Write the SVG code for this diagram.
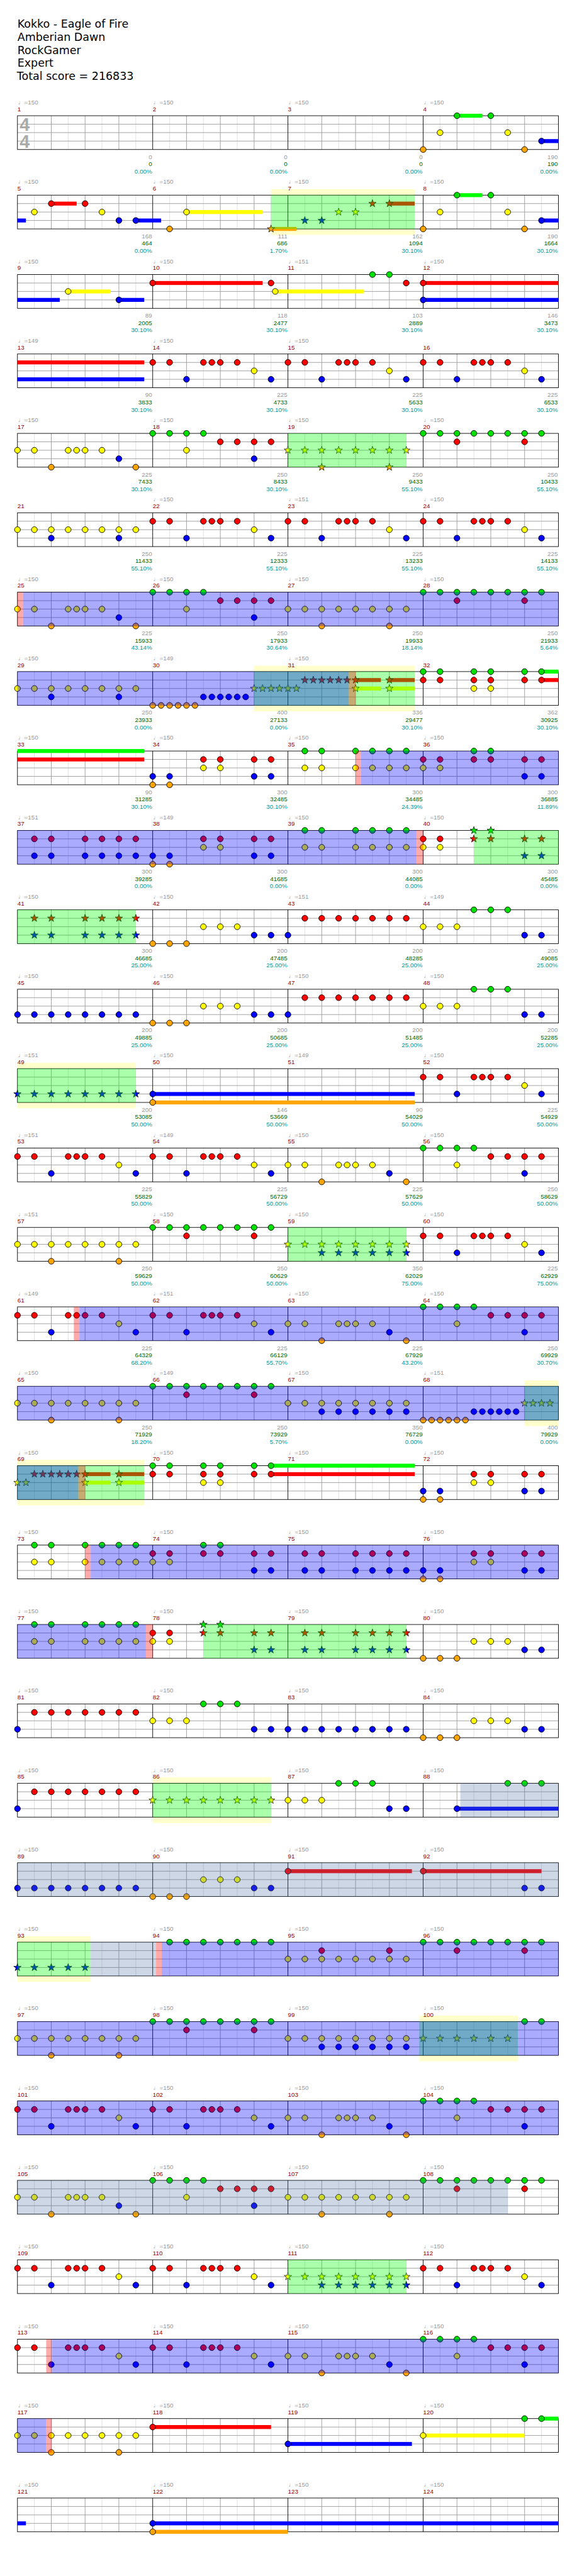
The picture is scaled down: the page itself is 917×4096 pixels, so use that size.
<svg xmlns="http://www.w3.org/2000/svg" xmlns:xlink="http://www.w3.org/1999/xlink" width="917" height="4096" viewBox="0 0 917 4096">
<style>
.ti{font-family:"DejaVu Sans",sans-serif;font-size:19.5px;fill:#000}
.tp,.mn,.ct,.sc,.pc{font-family:"Liberation Sans",Arial,"DejaVu Sans",sans-serif;font-size:11px}
.tp{fill:#999}.mn{fill:#900}
.ct{fill:#999;text-anchor:end}.sc{fill:#060;text-anchor:end}.pc{fill:#099;text-anchor:end}
.bG{fill:#0f0}.bR{fill:#f00}.bY{fill:#ff0}.bB{fill:#00f}.bO{fill:#ffa500}
.band{fill:#ffffcc}
.oG{fill:#0f0;fill-opacity:.333}.oB{fill:#00f;fill-opacity:.333}.oP{fill:#f00;fill-opacity:.333}.oS{fill:#4a6fa5;fill-opacity:.28}
.ts{font-family:"Liberation Sans",Arial,sans-serif;font-size:32px;font-weight:bold;fill:#aaa}
</style>
<defs>
<g id="staff">
<rect width="960" height="60" fill="#fff"/>
<path d="M30 0V60M90 0V60M150 0V60M210 0V60M270 0V60M330 0V60M390 0V60M450 0V60M510 0V60M570 0V60M630 0V60M690 0V60M750 0V60M810 0V60M870 0V60M930 0V60" stroke="#ddd"/>
<path d="M60 0V60M120 0V60M180 0V60M300 0V60M360 0V60M420 0V60M540 0V60M600 0V60M660 0V60M780 0V60M840 0V60M900 0V60M0 15H960M0 30H960M0 45H960" stroke="#999"/>
<path d="M240 0V60M480 0V60M720 0V60" stroke="#000"/>
<rect width="960" height="60" fill="none" stroke="#000"/>
</g>
<g id="tp4"><text class="tp" x="1" y="-20">♩=150</text><text class="tp" x="241" y="-20">♩=150</text><text class="tp" x="481" y="-20">♩=150</text><text class="tp" x="721" y="-20">♩=150</text></g>
<circle id="g" r="5.2" fill="#00e000" stroke="#000"/>
<circle id="r" cy="15" r="5.2" fill="#f00" stroke="#000"/>
<circle id="y" cy="30" r="5.2" fill="#ff0" stroke="#000"/>
<circle id="b" cy="45" r="5.2" fill="#00f" stroke="#000"/>
<circle id="o" cy="60" r="5.2" fill="#ffa500" stroke="#000"/>
<path id="st" d="M0,-7L1.65,-2.27L6.66,-2.16L2.66,0.87L4.11,5.66L0,2.8L-4.11,5.66L-2.66,0.87L-6.66,-2.16L-1.65,-2.27Z" stroke="#000" stroke-width=".8"/>
<use id="sg" href="#st" fill="#00e000"/>
<use id="sr" href="#st" y="15" fill="#f00"/>
<use id="sy" href="#st" y="30" fill="#ff0"/>
<use id="sb" href="#st" y="45" fill="#00f"/>
<use id="so" href="#st" y="60" fill="#ffa500"/>
<g id="pA"><use href="#r" x="0"/><use href="#r" x="30"/><use href="#r" x="90"/><use href="#r" x="105"/><use href="#r" x="120"/><use href="#r" x="150"/><use href="#y" x="180"/><use href="#b" x="60"/><use href="#b" x="210"/></g>
<g id="pB"><rect class="bG" x="60" y="-3.5" width="45" height="7"/><rect class="bB" x="210" y="41.5" width="30" height="7"/><use href="#o" x="0"/><use href="#y" x="30"/><use href="#g" x="60"/><use href="#g" x="120"/><use href="#y" x="150"/><use href="#o" x="180"/><use href="#b" x="210"/></g>
<g id="pC"><use href="#y" x="0"/><use href="#y" x="30"/><use href="#y" x="90"/><use href="#y" x="105"/><use href="#y" x="120"/><use href="#y" x="150"/><use href="#b" x="180"/><use href="#o" x="60"/><use href="#o" x="210"/></g>
<g id="pD"><use href="#g" x="0"/><use href="#g" x="30"/><use href="#g" x="60"/><use href="#g" x="90"/><use href="#r" x="120"/><use href="#r" x="150"/><use href="#r" x="180"/><use href="#r" x="210"/><use href="#y" x="60"/><use href="#b" x="180"/></g>
<g id="g8"><use href="#g" x="0"/><use href="#g" x="30"/><use href="#g" x="60"/><use href="#g" x="90"/><use href="#g" x="120"/><use href="#g" x="150"/><use href="#g" x="180"/><use href="#g" x="210"/></g>
<g id="pE"><use href="#g8"/><use href="#r" x="60"/><use href="#r" x="180"/></g>
<g id="y8"><use href="#y" x="0"/><use href="#y" x="30"/><use href="#y" x="60"/><use href="#y" x="90"/><use href="#y" x="120"/><use href="#y" x="150"/><use href="#y" x="180"/><use href="#y" x="210"/></g>
<g id="b8"><use href="#b" x="0"/><use href="#b" x="30"/><use href="#b" x="60"/><use href="#b" x="90"/><use href="#b" x="120"/><use href="#b" x="150"/><use href="#b" x="180"/><use href="#b" x="210"/></g>
<g id="pF"><use href="#y8"/><use href="#b" x="60"/><use href="#b" x="180"/></g>
<g id="pH"><use href="#y8"/><use href="#o" x="60"/><use href="#o" x="180"/></g>
<g id="pI"><use href="#b" x="0"/><use href="#b" x="30"/><use href="#o" x="0"/><use href="#o" x="30"/><use href="#r" x="90"/><use href="#r" x="120"/><use href="#r" x="180"/><use href="#r" x="210"/><use href="#y" x="90"/><use href="#y" x="120"/><use href="#b" x="180"/><use href="#b" x="210"/></g>
<g id="pJ"><use href="#o" x="0"/><use href="#o" x="30"/><use href="#o" x="60"/><use href="#y" x="90"/><use href="#y" x="120"/><use href="#y" x="150"/><use href="#b" x="180"/><use href="#b" x="210"/></g>
<g id="r7"><use href="#r" x="30"/><use href="#r" x="60"/><use href="#r" x="90"/><use href="#r" x="120"/><use href="#r" x="150"/><use href="#r" x="180"/><use href="#r" x="210"/></g>
<g id="pK"><use href="#y" x="0"/><use href="#y" x="30"/><use href="#y" x="60"/><use href="#g" x="90"/><use href="#g" x="120"/><use href="#g" x="150"/><use href="#b" x="180"/><use href="#b" x="210"/></g>
</defs>
<rect width="917" height="4096" fill="#fff"/>
<g transform="scale(0.8955)">
<g id="title">
<text class="ti" x="31" y="49">Kokko - Eagle of Fire</text>
<text class="ti" x="31" y="72.3">Amberian Dawn</text>
<text class="ti" x="31" y="95.5">RockGamer</text>
<text class="ti" x="31" y="118.6">Expert</text>
<text class="ti" x="30" y="141.7">Total score = 216833</text>
</g>

<g id="row1" transform="translate(31,205.5)">
<use href="#staff"/>
<text class="ts" x="4" y="26.5">4</text><text class="ts" x="4" y="56.5">4</text>
<use href="#pB" x="720"/>
<use href="#tp4"/>
<text class="mn" x="0" y="-8">1</text><text class="mn" x="240" y="-8">2</text><text class="mn" x="480" y="-8">3</text><text class="mn" x="720" y="-8">4</text>
<text class="ct" x="239" y="76.5">0</text><text class="sc" x="239" y="89.5">0</text><text class="pc" x="239" y="102.5">0.00%</text>
<text class="ct" x="479" y="76.5">0</text><text class="sc" x="479" y="89.5">0</text><text class="pc" x="479" y="102.5">0.00%</text>
<text class="ct" x="719" y="76.5">0</text><text class="sc" x="719" y="89.5">0</text><text class="pc" x="719" y="102.5">0.00%</text>
<text class="ct" x="959" y="76.5">190</text><text class="sc" x="959" y="89.5">190</text><text class="pc" x="959" y="102.5">0.00%</text>
</g>

<g id="row2" transform="translate(31,346.5)">
<rect class="band" x="450" y="-10.5" width="255" height="81"/>
<use href="#staff"/>
<rect class="bB" x="0" y="41.5" width="15" height="7"/><rect class="bR" x="60" y="11.5" width="45" height="7"/><rect class="bB" x="210" y="41.5" width="45" height="7"/><rect class="bY" x="300" y="26.5" width="135" height="7"/><rect class="bO" x="450" y="56.5" width="45" height="7"/><rect class="bR" x="660" y="11.5" width="45" height="7"/>
<use href="#y" x="30"/><use href="#r" x="60"/><use href="#r" x="120"/><use href="#y" x="150"/><use href="#b" x="180"/><use href="#b" x="210"/><use href="#o" x="270"/><use href="#y" x="300"/>
<use href="#so" x="450"/><use href="#sb" x="510"/><use href="#sb" x="540"/><use href="#sy" x="570"/><use href="#sy" x="600"/><use href="#sr" x="630"/><use href="#sr" x="660"/>
<use href="#pB" x="720"/>
<rect class="oG" x="450" y="0" width="255" height="60"/>
<use href="#tp4"/>
<text class="mn" x="0" y="-8">5</text><text class="mn" x="240" y="-8">6</text><text class="mn" x="480" y="-8">7</text><text class="mn" x="720" y="-8">8</text>
<text class="ct" x="239" y="76.5">168</text><text class="sc" x="239" y="89.5">464</text><text class="pc" x="239" y="102.5">0.00%</text>
<text class="ct" x="479" y="76.5">111</text><text class="sc" x="479" y="89.5">686</text><text class="pc" x="479" y="102.5">1.70%</text>
<text class="ct" x="719" y="76.5">162</text><text class="sc" x="719" y="89.5">1094</text><text class="pc" x="719" y="102.5">30.10%</text>
<text class="ct" x="959" y="76.5">190</text><text class="sc" x="959" y="89.5">1664</text><text class="pc" x="959" y="102.5">30.10%</text>
</g>

<g id="row3" transform="translate(31,487.5)">
<use href="#staff"/>
<rect class="bB" x="0" y="41.5" width="75" height="7"/><rect class="bY" x="90" y="26.5" width="75" height="7"/><rect class="bB" x="180" y="41.5" width="45" height="7"/><rect class="bR" x="240" y="11.5" width="195" height="7"/><rect class="bY" x="457.5" y="26.5" width="157.5" height="7"/><rect class="bR" x="720" y="11.5" width="240" height="7"/><rect class="bB" x="720" y="41.5" width="240" height="7"/>
<use href="#y" x="90"/><use href="#b" x="180"/><use href="#r" x="240"/><use href="#r" x="450"/><use href="#y" x="457.5"/><use href="#g" x="630"/><use href="#g" x="660"/><use href="#r" x="690"/><use href="#r" x="720"/><use href="#b" x="720"/>
<text class="tp" x="1" y="-20">♩=150</text><text class="mn" x="0" y="-8">9</text>
<text class="tp" x="241" y="-20">♩=150</text><text class="mn" x="240" y="-8">10</text>
<text class="tp" x="481" y="-20">♩=151</text><text class="mn" x="480" y="-8">11</text>
<text class="tp" x="721" y="-20">♩=150</text><text class="mn" x="720" y="-8">12</text>
<text class="ct" x="239" y="76.5">89</text><text class="sc" x="239" y="89.5">2005</text><text class="pc" x="239" y="102.5">30.10%</text>
<text class="ct" x="479" y="76.5">118</text><text class="sc" x="479" y="89.5">2477</text><text class="pc" x="479" y="102.5">30.10%</text>
<text class="ct" x="719" y="76.5">103</text><text class="sc" x="719" y="89.5">2889</text><text class="pc" x="719" y="102.5">30.10%</text>
<text class="ct" x="959" y="76.5">146</text><text class="sc" x="959" y="89.5">3473</text><text class="pc" x="959" y="102.5">30.10%</text>
</g>

<g id="row4" transform="translate(31,628.5)">
<use href="#staff"/>
<rect class="bR" x="0" y="11.5" width="225" height="7"/><rect class="bB" x="0" y="41.5" width="225" height="7"/>
<use href="#pA" x="240"/><use href="#pA" x="480"/><use href="#pA" x="720"/>
<text class="tp" x="1" y="-20">♩=149</text><text class="mn" x="0" y="-8">13</text>
<text class="tp" x="241" y="-20">♩=150</text><text class="mn" x="240" y="-8">14</text>
<text class="tp" x="481" y="-20">♩=150</text><text class="mn" x="480" y="-8">15</text>
<text class="mn" x="720" y="-8">16</text>
<text class="ct" x="239" y="76.5">90</text><text class="sc" x="239" y="89.5">3833</text><text class="pc" x="239" y="102.5">30.10%</text>
<text class="ct" x="479" y="76.5">225</text><text class="sc" x="479" y="89.5">4733</text><text class="pc" x="479" y="102.5">30.10%</text>
<text class="ct" x="719" y="76.5">225</text><text class="sc" x="719" y="89.5">5633</text><text class="pc" x="719" y="102.5">30.10%</text>
<text class="ct" x="959" y="76.5">225</text><text class="sc" x="959" y="89.5">6533</text><text class="pc" x="959" y="102.5">30.10%</text>
</g>

<g id="row5" transform="translate(31,769.5)">
<use href="#staff"/>
<use href="#pC"/><use href="#pD" x="240"/>
<use href="#sy" x="480"/><use href="#sy" x="510"/><use href="#sy" x="540"/><use href="#sy" x="570"/><use href="#sy" x="600"/><use href="#sy" x="630"/><use href="#sy" x="660"/><use href="#sy" x="690"/><use href="#so" x="540"/><use href="#so" x="660"/>
<use href="#pE" x="720"/>
<rect class="oG" x="480" y="0" width="210" height="60"/>
<use href="#tp4"/>
<text class="mn" x="0" y="-8">17</text><text class="mn" x="240" y="-8">18</text><text class="mn" x="480" y="-8">19</text><text class="mn" x="720" y="-8">20</text>
<text class="ct" x="239" y="76.5">225</text><text class="sc" x="239" y="89.5">7433</text><text class="pc" x="239" y="102.5">30.10%</text>
<text class="ct" x="479" y="76.5">250</text><text class="sc" x="479" y="89.5">8433</text><text class="pc" x="479" y="102.5">30.10%</text>
<text class="ct" x="719" y="76.5">250</text><text class="sc" x="719" y="89.5">9433</text><text class="pc" x="719" y="102.5">55.10%</text>
<text class="ct" x="959" y="76.5">250</text><text class="sc" x="959" y="89.5">10433</text><text class="pc" x="959" y="102.5">55.10%</text>
</g>

<g id="row6" transform="translate(31,910.5)">
<use href="#staff"/>
<use href="#pF"/><use href="#pA" x="240"/><use href="#pA" x="480"/><use href="#pA" x="720"/>
<text class="mn" x="0" y="-8">21</text>
<text class="tp" x="241" y="-20">♩=150</text><text class="mn" x="240" y="-8">22</text>
<text class="tp" x="481" y="-20">♩=151</text><text class="mn" x="480" y="-8">23</text>
<text class="tp" x="721" y="-20">♩=150</text><text class="mn" x="720" y="-8">24</text>
<text class="ct" x="239" y="76.5">250</text><text class="sc" x="239" y="89.5">11433</text><text class="pc" x="239" y="102.5">55.10%</text>
<text class="ct" x="479" y="76.5">225</text><text class="sc" x="479" y="89.5">12333</text><text class="pc" x="479" y="102.5">55.10%</text>
<text class="ct" x="719" y="76.5">225</text><text class="sc" x="719" y="89.5">13233</text><text class="pc" x="719" y="102.5">55.10%</text>
<text class="ct" x="959" y="76.5">225</text><text class="sc" x="959" y="89.5">14133</text><text class="pc" x="959" y="102.5">55.10%</text>
</g>

<g id="row7" transform="translate(31,1051.5)">
<use href="#staff"/>
<use href="#pC"/><use href="#pD" x="240"/><use href="#pH" x="480"/><use href="#pE" x="720"/>
<rect class="oP" x="0" y="0" width="10" height="60"/><rect class="oB" x="10" y="0" width="950" height="60"/>
<use href="#tp4"/>
<text class="mn" x="0" y="-8">25</text><text class="mn" x="240" y="-8">26</text><text class="mn" x="480" y="-8">27</text><text class="mn" x="720" y="-8">28</text>
<text class="ct" x="239" y="76.5">225</text><text class="sc" x="239" y="89.5">15933</text><text class="pc" x="239" y="102.5">43.14%</text>
<text class="ct" x="479" y="76.5">250</text><text class="sc" x="479" y="89.5">17933</text><text class="pc" x="479" y="102.5">30.64%</text>
<text class="ct" x="719" y="76.5">250</text><text class="sc" x="719" y="89.5">19933</text><text class="pc" x="719" y="102.5">18.14%</text>
<text class="ct" x="959" y="76.5">250</text><text class="sc" x="959" y="89.5">21933</text><text class="pc" x="959" y="102.5">5.64%</text>
</g>

<g id="row8" transform="translate(31,1192.5)">
<rect class="band" x="420" y="-10.5" width="285" height="81"/>
<use href="#staff"/>
<rect class="bR" x="600" y="11.5" width="45" height="7"/><rect class="bY" x="600" y="26.5" width="45" height="7"/><rect class="bR" x="660" y="11.5" width="45" height="7"/><rect class="bY" x="660" y="26.5" width="45" height="7"/><rect class="bG" x="930" y="-3.5" width="30" height="7"/><rect class="bR" x="930" y="11.5" width="30" height="7"/>
<use href="#pF"/>
<use href="#o" x="240"/><use href="#o" x="255"/><use href="#o" x="270"/><use href="#o" x="285"/><use href="#o" x="300"/><use href="#o" x="315"/>
<use href="#b" x="330"/><use href="#b" x="345"/><use href="#b" x="360"/><use href="#b" x="375"/><use href="#b" x="390"/><use href="#b" x="405"/>
<use href="#sy" x="420"/><use href="#sy" x="435"/><use href="#sy" x="450"/><use href="#sy" x="465"/><use href="#sy" x="480"/><use href="#sy" x="495"/>
<use href="#sr" x="510"/><use href="#sr" x="525"/><use href="#sr" x="540"/><use href="#sr" x="555"/><use href="#sr" x="570"/><use href="#sr" x="585"/><use href="#sr" x="600"/><use href="#sy" x="600"/><use href="#sr" x="660"/><use href="#sy" x="660"/>
<use href="#g" x="720"/><use href="#g" x="750"/><use href="#g" x="810"/><use href="#g" x="840"/><use href="#g" x="900"/><use href="#g" x="930"/>
<use href="#r" x="720"/><use href="#r" x="750"/><use href="#r" x="810"/><use href="#r" x="840"/><use href="#r" x="900"/><use href="#r" x="930"/>
<use href="#y" x="810"/><use href="#y" x="840"/>
<rect class="oG" x="420" y="0" width="285" height="60"/><rect class="oB" x="0" y="0" width="588" height="60"/><rect class="oP" x="588" y="0" width="12" height="60"/>
<text class="tp" x="1" y="-20">♩=150</text><text class="mn" x="0" y="-8">29</text>
<text class="tp" x="241" y="-20">♩=149</text><text class="mn" x="240" y="-8">30</text>
<text class="tp" x="481" y="-20">♩=150</text><text class="mn" x="480" y="-8">31</text>
<text class="mn" x="720" y="-8">32</text>
<text class="ct" x="239" y="76.5">250</text><text class="sc" x="239" y="89.5">23933</text><text class="pc" x="239" y="102.5">0.00%</text>
<text class="ct" x="479" y="76.5">400</text><text class="sc" x="479" y="89.5">27133</text><text class="pc" x="479" y="102.5">0.00%</text>
<text class="ct" x="719" y="76.5">336</text><text class="sc" x="719" y="89.5">29477</text><text class="pc" x="719" y="102.5">30.10%</text>
<text class="ct" x="959" y="76.5">362</text><text class="sc" x="959" y="89.5">30925</text><text class="pc" x="959" y="102.5">30.10%</text>
</g>

<g id="row9" transform="translate(31,1333.5)">
<use href="#staff"/>
<rect class="bG" x="0" y="-3.5" width="225" height="7"/><rect class="bR" x="0" y="11.5" width="225" height="7"/>
<use href="#pI" x="240"/>
<use href="#g" x="510"/><use href="#g" x="540"/><use href="#y" x="510"/><use href="#y" x="540"/><use href="#g" x="600"/><use href="#y" x="600"/><use href="#g" x="630"/><use href="#g" x="660"/><use href="#g" x="690"/><use href="#y" x="630"/><use href="#y" x="660"/><use href="#y" x="690"/>
<use href="#r" x="720"/><use href="#r" x="750"/><use href="#r" x="810"/><use href="#r" x="840"/><use href="#r" x="900"/><use href="#r" x="930"/><use href="#y" x="720"/><use href="#y" x="750"/><use href="#g" x="810"/><use href="#g" x="840"/><use href="#b" x="900"/><use href="#b" x="930"/>
<rect class="oP" x="600" y="0" width="10" height="60"/><rect class="oB" x="610" y="0" width="350" height="60"/>
<use href="#tp4"/>
<text class="mn" x="0" y="-8">33</text><text class="mn" x="240" y="-8">34</text><text class="mn" x="480" y="-8">35</text><text class="mn" x="720" y="-8">36</text>
<text class="ct" x="239" y="76.5">90</text><text class="sc" x="239" y="89.5">31285</text><text class="pc" x="239" y="102.5">30.10%</text>
<text class="ct" x="479" y="76.5">300</text><text class="sc" x="479" y="89.5">32485</text><text class="pc" x="479" y="102.5">30.10%</text>
<text class="ct" x="719" y="76.5">300</text><text class="sc" x="719" y="89.5">34485</text><text class="pc" x="719" y="102.5">24.39%</text>
<text class="ct" x="959" y="76.5">300</text><text class="sc" x="959" y="89.5">36885</text><text class="pc" x="959" y="102.5">11.89%</text>
</g>

<g id="row10" transform="translate(31,1474.5)">
<use href="#staff"/>
<use href="#r" x="30"/><use href="#r" x="60"/><use href="#r" x="120"/><use href="#r" x="150"/><use href="#r" x="180"/><use href="#r" x="210"/>
<use href="#b" x="30"/><use href="#b" x="60"/><use href="#b" x="120"/><use href="#b" x="150"/><use href="#b" x="180"/><use href="#b" x="210"/>
<use href="#pI" x="240"/>
<use href="#g" x="510"/><use href="#g" x="540"/><use href="#g" x="600"/><use href="#g" x="630"/><use href="#g" x="660"/><use href="#g" x="690"/>
<use href="#y" x="510"/><use href="#y" x="540"/><use href="#y" x="600"/><use href="#y" x="630"/><use href="#y" x="660"/><use href="#y" x="690"/>
<use href="#r" x="720"/><use href="#r" x="750"/><use href="#y" x="720"/><use href="#y" x="750"/>
<use href="#sg" x="810"/><use href="#sg" x="840"/><use href="#sr" x="810"/><use href="#sr" x="840"/><use href="#sr" x="900"/><use href="#sr" x="930"/><use href="#sb" x="900"/><use href="#sb" x="930"/>
<rect class="oB" x="0" y="0" width="708" height="60"/><rect class="oP" x="708" y="0" width="12" height="60"/><rect class="oG" x="810" y="0" width="150" height="60"/>
<text class="tp" x="1" y="-20">♩=151</text><text class="mn" x="0" y="-8">37</text>
<text class="tp" x="241" y="-20">♩=149</text><text class="mn" x="240" y="-8">38</text>
<text class="tp" x="481" y="-20">♩=150</text><text class="mn" x="480" y="-8">39</text>
<text class="tp" x="721" y="-20">♩=150</text><text class="mn" x="720" y="-8">40</text>
<text class="ct" x="239" y="76.5">300</text><text class="sc" x="239" y="89.5">39285</text><text class="pc" x="239" y="102.5">0.00%</text>
<text class="ct" x="479" y="76.5">300</text><text class="sc" x="479" y="89.5">41685</text><text class="pc" x="479" y="102.5">0.00%</text>
<text class="ct" x="719" y="76.5">300</text><text class="sc" x="719" y="89.5">44085</text><text class="pc" x="719" y="102.5">0.00%</text>
<text class="ct" x="959" y="76.5">300</text><text class="sc" x="959" y="89.5">45485</text><text class="pc" x="959" y="102.5">0.00%</text>
</g>

<g id="row11" transform="translate(31,1615.5)">
<use href="#staff"/>
<use href="#sr" x="30"/><use href="#sr" x="60"/><use href="#sr" x="120"/><use href="#sr" x="150"/><use href="#sr" x="180"/><use href="#sr" x="210"/>
<use href="#sb" x="30"/><use href="#sb" x="60"/><use href="#sb" x="120"/><use href="#sb" x="150"/><use href="#sb" x="180"/><use href="#sb" x="210"/>
<use href="#pJ" x="240"/><use href="#b" x="480"/><use href="#r7" x="480"/><use href="#pK" x="720"/>
<rect class="oG" x="0" y="0" width="210" height="60"/>
<text class="tp" x="1" y="-20">♩=150</text><text class="mn" x="0" y="-8">41</text>
<text class="tp" x="241" y="-20">♩=150</text><text class="mn" x="240" y="-8">42</text>
<text class="tp" x="481" y="-20">♩=151</text><text class="mn" x="480" y="-8">43</text>
<text class="tp" x="721" y="-20">♩=149</text><text class="mn" x="720" y="-8">44</text>
<text class="ct" x="239" y="76.5">300</text><text class="sc" x="239" y="89.5">46685</text><text class="pc" x="239" y="102.5">25.00%</text>
<text class="ct" x="479" y="76.5">200</text><text class="sc" x="479" y="89.5">47485</text><text class="pc" x="479" y="102.5">25.00%</text>
<text class="ct" x="719" y="76.5">200</text><text class="sc" x="719" y="89.5">48285</text><text class="pc" x="719" y="102.5">25.00%</text>
<text class="ct" x="959" y="76.5">200</text><text class="sc" x="959" y="89.5">49085</text><text class="pc" x="959" y="102.5">25.00%</text>
</g>

<g id="row12" transform="translate(31,1756.5)">
<use href="#staff"/>
<use href="#b8"/><use href="#pJ" x="240"/><use href="#b" x="480"/><use href="#r7" x="480"/><use href="#pK" x="720"/>
<use href="#tp4"/>
<text class="mn" x="0" y="-8">45</text><text class="mn" x="240" y="-8">46</text><text class="mn" x="480" y="-8">47</text><text class="mn" x="720" y="-8">48</text>
<text class="ct" x="239" y="76.5">200</text><text class="sc" x="239" y="89.5">49885</text><text class="pc" x="239" y="102.5">25.00%</text>
<text class="ct" x="479" y="76.5">200</text><text class="sc" x="479" y="89.5">50685</text><text class="pc" x="479" y="102.5">25.00%</text>
<text class="ct" x="719" y="76.5">200</text><text class="sc" x="719" y="89.5">51485</text><text class="pc" x="719" y="102.5">25.00%</text>
<text class="ct" x="959" y="76.5">200</text><text class="sc" x="959" y="89.5">52285</text><text class="pc" x="959" y="102.5">25.00%</text>
</g>

<g id="row13" transform="translate(31,1897.5)">
<rect class="band" x="0" y="-10.5" width="210" height="81"/>
<use href="#staff"/>
<rect class="bB" x="240" y="41.5" width="465" height="7"/><rect class="bO" x="240" y="56.5" width="465" height="7"/>
<use href="#sb" x="0"/><use href="#sb" x="30"/><use href="#sb" x="60"/><use href="#sb" x="90"/><use href="#sb" x="120"/><use href="#sb" x="150"/><use href="#sb" x="180"/><use href="#sb" x="210"/>
<use href="#b" x="240"/><use href="#o" x="240"/><use href="#pA" x="720"/>
<rect class="oG" x="0" y="0" width="210" height="60"/>
<text class="tp" x="1" y="-20">♩=151</text><text class="mn" x="0" y="-8">49</text>
<text class="tp" x="241" y="-20">♩=150</text><text class="mn" x="240" y="-8">50</text>
<text class="tp" x="481" y="-20">♩=149</text><text class="mn" x="480" y="-8">51</text>
<text class="tp" x="721" y="-20">♩=150</text><text class="mn" x="720" y="-8">52</text>
<text class="ct" x="239" y="76.5">200</text><text class="sc" x="239" y="89.5">53085</text><text class="pc" x="239" y="102.5">50.00%</text>
<text class="ct" x="479" y="76.5">146</text><text class="sc" x="479" y="89.5">53669</text><text class="pc" x="479" y="102.5">50.00%</text>
<text class="ct" x="719" y="76.5">90</text><text class="sc" x="719" y="89.5">54029</text><text class="pc" x="719" y="102.5">50.00%</text>
<text class="ct" x="959" y="76.5">225</text><text class="sc" x="959" y="89.5">54929</text><text class="pc" x="959" y="102.5">50.00%</text>
</g>

<g id="row14" transform="translate(31,2038.5)">
<use href="#staff"/>
<use href="#pA"/><use href="#pA" x="240"/><use href="#pC" x="480"/><use href="#pD" x="720"/>
<text class="tp" x="1" y="-20">♩=151</text><text class="mn" x="0" y="-8">53</text>
<text class="tp" x="241" y="-20">♩=149</text><text class="mn" x="240" y="-8">54</text>
<text class="tp" x="481" y="-20">♩=150</text><text class="mn" x="480" y="-8">55</text>
<text class="tp" x="721" y="-20">♩=150</text><text class="mn" x="720" y="-8">56</text>
<text class="ct" x="239" y="76.5">225</text><text class="sc" x="239" y="89.5">55829</text><text class="pc" x="239" y="102.5">50.00%</text>
<text class="ct" x="479" y="76.5">225</text><text class="sc" x="479" y="89.5">56729</text><text class="pc" x="479" y="102.5">50.00%</text>
<text class="ct" x="719" y="76.5">225</text><text class="sc" x="719" y="89.5">57629</text><text class="pc" x="719" y="102.5">50.00%</text>
<text class="ct" x="959" y="76.5">250</text><text class="sc" x="959" y="89.5">58629</text><text class="pc" x="959" y="102.5">50.00%</text>
</g>

<g id="row15" transform="translate(31,2179.5)">
<use href="#staff"/>
<use href="#pH"/><use href="#pE" x="240"/>
<use href="#sy" x="480"/><use href="#sy" x="510"/><use href="#sy" x="540"/><use href="#sy" x="570"/><use href="#sy" x="600"/><use href="#sy" x="630"/><use href="#sy" x="660"/><use href="#sy" x="690"/>
<use href="#sb" x="540"/><use href="#sb" x="570"/><use href="#sb" x="600"/><use href="#sb" x="630"/><use href="#sb" x="660"/><use href="#sb" x="690"/>
<use href="#pA" x="720"/>
<rect class="oG" x="480" y="0" width="210" height="60"/>
<text class="tp" x="1" y="-20">♩=151</text><text class="mn" x="0" y="-8">57</text>
<text class="tp" x="241" y="-20">♩=150</text><text class="mn" x="240" y="-8">58</text>
<text class="tp" x="481" y="-20">♩=150</text><text class="mn" x="480" y="-8">59</text>
<text class="tp" x="721" y="-20">♩=150</text><text class="mn" x="720" y="-8">60</text>
<text class="ct" x="239" y="76.5">250</text><text class="sc" x="239" y="89.5">59629</text><text class="pc" x="239" y="102.5">50.00%</text>
<text class="ct" x="479" y="76.5">250</text><text class="sc" x="479" y="89.5">60629</text><text class="pc" x="479" y="102.5">50.00%</text>
<text class="ct" x="719" y="76.5">350</text><text class="sc" x="719" y="89.5">62029</text><text class="pc" x="719" y="102.5">75.00%</text>
<text class="ct" x="959" y="76.5">225</text><text class="sc" x="959" y="89.5">62929</text><text class="pc" x="959" y="102.5">75.00%</text>
</g>

<g id="row16" transform="translate(31,2320.5)">
<use href="#staff"/>
<use href="#pA"/><use href="#pA" x="240"/><use href="#pC" x="480"/><use href="#pD" x="720"/>
<rect class="oP" x="100" y="0" width="10" height="60"/><rect class="oB" x="110" y="0" width="850" height="60"/>
<text class="tp" x="1" y="-20">♩=149</text><text class="mn" x="0" y="-8">61</text>
<text class="tp" x="241" y="-20">♩=151</text><text class="mn" x="240" y="-8">62</text>
<text class="tp" x="481" y="-20">♩=150</text><text class="mn" x="480" y="-8">63</text>
<text class="tp" x="721" y="-20">♩=150</text><text class="mn" x="720" y="-8">64</text>
<text class="ct" x="239" y="76.5">225</text><text class="sc" x="239" y="89.5">64329</text><text class="pc" x="239" y="102.5">68.20%</text>
<text class="ct" x="479" y="76.5">225</text><text class="sc" x="479" y="89.5">66129</text><text class="pc" x="479" y="102.5">55.70%</text>
<text class="ct" x="719" y="76.5">225</text><text class="sc" x="719" y="89.5">67929</text><text class="pc" x="719" y="102.5">43.20%</text>
<text class="ct" x="959" y="76.5">250</text><text class="sc" x="959" y="89.5">69929</text><text class="pc" x="959" y="102.5">30.70%</text>
</g>

<g id="row17" transform="translate(31,2461.5)">
<rect class="band" x="900" y="-10.5" width="60" height="81"/>
<use href="#staff"/>
<use href="#pH"/><use href="#pE" x="240"/>
<use href="#y8" x="480"/><use href="#b" x="540"/><use href="#b" x="570"/><use href="#b" x="600"/><use href="#b" x="630"/><use href="#b" x="660"/><use href="#b" x="690"/>
<use href="#o" x="720"/><use href="#o" x="735"/><use href="#o" x="750"/><use href="#o" x="765"/><use href="#o" x="780"/><use href="#o" x="795"/>
<use href="#b" x="810"/><use href="#b" x="825"/><use href="#b" x="840"/><use href="#b" x="855"/><use href="#b" x="870"/><use href="#b" x="885"/>
<use href="#sy" x="900"/><use href="#sy" x="915"/><use href="#sy" x="930"/><use href="#sy" x="945"/>
<rect class="oG" x="900" y="0" width="60" height="60"/><rect class="oB" x="0" y="0" width="960" height="60"/>
<text class="tp" x="1" y="-20">♩=150</text><text class="mn" x="0" y="-8">65</text>
<text class="tp" x="241" y="-20">♩=149</text><text class="mn" x="240" y="-8">66</text>
<text class="tp" x="481" y="-20">♩=150</text><text class="mn" x="480" y="-8">67</text>
<text class="tp" x="721" y="-20">♩=151</text><text class="mn" x="720" y="-8">68</text>
<text class="ct" x="239" y="76.5">250</text><text class="sc" x="239" y="89.5">71929</text><text class="pc" x="239" y="102.5">18.20%</text>
<text class="ct" x="479" y="76.5">250</text><text class="sc" x="479" y="89.5">73929</text><text class="pc" x="479" y="102.5">5.70%</text>
<text class="ct" x="719" y="76.5">350</text><text class="sc" x="719" y="89.5">76729</text><text class="pc" x="719" y="102.5">0.00%</text>
<text class="ct" x="959" y="76.5">400</text><text class="sc" x="959" y="89.5">79929</text><text class="pc" x="959" y="102.5">0.00%</text>
</g>

<g id="row18" transform="translate(31,2602.5)">
<rect class="band" x="0" y="-10.5" width="225" height="81"/>
<use href="#staff"/>
<rect class="bR" x="120" y="11.5" width="45" height="7"/><rect class="bY" x="120" y="26.5" width="45" height="7"/><rect class="bR" x="180" y="11.5" width="45" height="7"/><rect class="bY" x="180" y="26.5" width="45" height="7"/>
<rect class="bG" x="450" y="-3.5" width="255" height="7"/><rect class="bR" x="450" y="11.5" width="255" height="7"/>
<use href="#sy" x="0"/><use href="#sy" x="15"/><use href="#sr" x="30"/><use href="#sr" x="45"/><use href="#sr" x="60"/><use href="#sr" x="75"/><use href="#sr" x="90"/><use href="#sr" x="105"/><use href="#sr" x="120"/><use href="#sy" x="120"/><use href="#sr" x="180"/><use href="#sy" x="180"/>
<use href="#g" x="240"/><use href="#g" x="270"/><use href="#g" x="330"/><use href="#g" x="360"/><use href="#g" x="420"/><use href="#g" x="450"/>
<use href="#r" x="240"/><use href="#r" x="270"/><use href="#r" x="330"/><use href="#r" x="360"/><use href="#r" x="420"/><use href="#r" x="450"/>
<use href="#y" x="330"/><use href="#y" x="360"/>
<use href="#pI" x="720"/>
<rect class="oG" x="0" y="0" width="225" height="60"/><rect class="oB" x="0" y="0" width="108" height="60"/><rect class="oP" x="108" y="0" width="12" height="60"/>
<use href="#tp4"/>
<text class="mn" x="0" y="-8">69</text><text class="mn" x="240" y="-8">70</text><text class="mn" x="480" y="-8">71</text><text class="mn" x="720" y="-8">72</text>
</g>

<g id="row19" transform="translate(31,2743.5)">
<use href="#staff"/>
<use href="#g" x="30"/><use href="#g" x="60"/><use href="#g" x="120"/><use href="#g" x="150"/><use href="#g" x="180"/><use href="#g" x="210"/>
<use href="#y" x="30"/><use href="#y" x="60"/><use href="#y" x="120"/><use href="#y" x="150"/><use href="#y" x="180"/><use href="#y" x="210"/>
<use href="#r" x="240"/><use href="#r" x="270"/><use href="#r" x="330"/><use href="#r" x="360"/><use href="#r" x="420"/><use href="#r" x="450"/><use href="#y" x="240"/><use href="#y" x="270"/><use href="#g" x="330"/><use href="#g" x="360"/><use href="#b" x="420"/><use href="#b" x="450"/>
<use href="#r" x="510"/><use href="#r" x="540"/><use href="#r" x="600"/><use href="#r" x="630"/><use href="#r" x="660"/><use href="#r" x="690"/>
<use href="#b" x="510"/><use href="#b" x="540"/><use href="#b" x="600"/><use href="#b" x="630"/><use href="#b" x="660"/><use href="#b" x="690"/>
<use href="#pI" x="720"/>
<rect class="oP" x="120" y="0" width="10" height="60"/><rect class="oB" x="130" y="0" width="830" height="60"/>
<use href="#tp4"/>
<text class="mn" x="0" y="-8">73</text><text class="mn" x="240" y="-8">74</text><text class="mn" x="480" y="-8">75</text><text class="mn" x="720" y="-8">76</text>
</g>

<g id="row20" transform="translate(31,2884.5)">
<use href="#staff"/>
<use href="#g" x="30"/><use href="#g" x="60"/><use href="#g" x="120"/><use href="#g" x="150"/><use href="#g" x="180"/><use href="#g" x="210"/>
<use href="#y" x="30"/><use href="#y" x="60"/><use href="#y" x="120"/><use href="#y" x="150"/><use href="#y" x="180"/><use href="#y" x="210"/>
<use href="#r" x="240"/><use href="#r" x="270"/><use href="#y" x="240"/><use href="#y" x="270"/>
<use href="#sg" x="330"/><use href="#sg" x="360"/><use href="#sr" x="330"/><use href="#sr" x="360"/><use href="#sr" x="420"/><use href="#sr" x="450"/><use href="#sb" x="420"/><use href="#sb" x="450"/>
<use href="#sr" x="510"/><use href="#sr" x="540"/><use href="#sr" x="600"/><use href="#sr" x="630"/><use href="#sr" x="660"/><use href="#sr" x="690"/>
<use href="#sb" x="510"/><use href="#sb" x="540"/><use href="#sb" x="600"/><use href="#sb" x="630"/><use href="#sb" x="660"/><use href="#sb" x="690"/>
<use href="#pJ" x="720"/>
<rect class="oB" x="0" y="0" width="228" height="60"/><rect class="oP" x="228" y="0" width="12" height="60"/><rect class="oG" x="330" y="0" width="360" height="60"/>
<use href="#tp4"/>
<text class="mn" x="0" y="-8">77</text><text class="mn" x="240" y="-8">78</text><text class="mn" x="480" y="-8">79</text><text class="mn" x="720" y="-8">80</text>
</g>

<g id="row21" transform="translate(31,3025.5)">
<use href="#staff"/>
<use href="#b" x="0"/><use href="#r7"/><use href="#pK" x="240"/><use href="#b8" x="480"/><use href="#pJ" x="720"/>
<use href="#tp4"/>
<text class="mn" x="0" y="-8">81</text><text class="mn" x="240" y="-8">82</text><text class="mn" x="480" y="-8">83</text><text class="mn" x="720" y="-8">84</text>
</g>

<g id="row22" transform="translate(31,3166.5)">
<rect class="band" x="240" y="-10.5" width="210" height="81"/>
<use href="#staff"/>
<rect class="bB" x="780" y="41.5" width="180" height="7"/>
<use href="#b" x="0"/><use href="#r7"/>
<use href="#sy" x="240"/><use href="#sy" x="270"/><use href="#sy" x="300"/><use href="#sy" x="330"/><use href="#sy" x="360"/><use href="#sy" x="390"/><use href="#sy" x="420"/><use href="#sy" x="450"/>
<use href="#pK" x="480"/>
<use href="#b" x="780"/><use href="#g" x="870"/><use href="#g" x="900"/><use href="#g" x="930"/>
<rect class="oG" x="240" y="0" width="210" height="60"/><rect class="oS" x="786" y="0" width="174" height="60"/>
<use href="#tp4"/>
<text class="mn" x="0" y="-8">85</text><text class="mn" x="240" y="-8">86</text><text class="mn" x="480" y="-8">87</text><text class="mn" x="720" y="-8">88</text>
</g>

<g id="row23" transform="translate(31,3307.5)">
<use href="#staff"/>
<rect class="bR" x="480" y="11.5" width="220" height="7"/><rect class="bR" x="720" y="11.5" width="210" height="7"/>
<use href="#b8"/><use href="#pJ" x="240"/><use href="#r" x="480"/><use href="#r" x="720"/><use href="#b" x="900"/><use href="#b" x="930"/>
<rect class="oS" x="0" y="0" width="960" height="60"/>
<use href="#tp4"/>
<text class="mn" x="0" y="-8">89</text><text class="mn" x="240" y="-8">90</text><text class="mn" x="480" y="-8">91</text><text class="mn" x="720" y="-8">92</text>
</g>

<g id="row24" transform="translate(31,3448.5)">
<rect class="band" x="0" y="-10.5" width="130" height="81"/>
<use href="#staff"/>
<use href="#sb" x="0"/><use href="#sb" x="30"/><use href="#sb" x="60"/><use href="#sb" x="90"/><use href="#sb" x="120"/>
<use href="#g" x="270"/><use href="#g" x="300"/><use href="#g" x="330"/><use href="#g" x="360"/><use href="#g" x="390"/><use href="#g" x="420"/><use href="#g" x="450"/>
<use href="#y8" x="480"/><use href="#r" x="540"/><use href="#r" x="660"/>
<use href="#pE" x="720"/>
<rect class="oG" x="0" y="0" width="130" height="60"/><rect class="oS" x="130" y="0" width="116" height="60"/><rect class="oP" x="246" y="0" width="10" height="60"/><rect class="oB" x="256" y="0" width="704" height="60"/>
<use href="#tp4"/>
<text class="mn" x="0" y="-8">93</text><text class="mn" x="240" y="-8">94</text><text class="mn" x="480" y="-8">95</text><text class="mn" x="720" y="-8">96</text>
</g>

<g id="row25" transform="translate(31,3589.5)">
<rect class="band" x="713" y="-10.5" width="175" height="81"/>
<use href="#staff"/>
<use href="#pH"/><use href="#pE" x="240"/>
<use href="#y8" x="480"/><use href="#b" x="540"/><use href="#b" x="570"/><use href="#b" x="600"/><use href="#b" x="630"/><use href="#b" x="660"/><use href="#b" x="690"/>
<use href="#sy" x="720"/><use href="#sy" x="750"/><use href="#sy" x="780"/><use href="#sy" x="810"/><use href="#sy" x="840"/><use href="#sy" x="870"/>
<use href="#g" x="900"/><use href="#g" x="930"/>
<rect class="oG" x="713" y="0" width="175" height="60"/><rect class="oB" x="0" y="0" width="960" height="60"/>
<use href="#tp4"/>
<text class="mn" x="0" y="-8">97</text><text class="mn" x="240" y="-8">98</text><text class="mn" x="480" y="-8">99</text><text class="mn" x="720" y="-8">100</text>
</g>

<g id="row26" transform="translate(31,3730.5)">
<use href="#staff"/>
<use href="#pA"/><use href="#pA" x="240"/><use href="#pC" x="480"/><use href="#pD" x="720"/>
<rect class="oB" x="0" y="0" width="960" height="60"/>
<use href="#tp4"/>
<text class="mn" x="0" y="-8">101</text><text class="mn" x="240" y="-8">102</text><text class="mn" x="480" y="-8">103</text><text class="mn" x="720" y="-8">104</text>
</g>

<g id="row27" transform="translate(31,3871.5)">
<use href="#staff"/>
<use href="#pC"/><use href="#pD" x="240"/><use href="#pH" x="480"/><use href="#pE" x="720"/>
<rect class="oS" x="0" y="0" width="870" height="60"/>
<use href="#tp4"/>
<text class="mn" x="0" y="-8">105</text><text class="mn" x="240" y="-8">106</text><text class="mn" x="480" y="-8">107</text><text class="mn" x="720" y="-8">108</text>
</g>

<g id="row28" transform="translate(31,4012.5)">
<use href="#staff"/>
<use href="#pA"/><use href="#pA" x="240"/>
<use href="#sy" x="480"/><use href="#sy" x="510"/><use href="#sy" x="540"/><use href="#sy" x="570"/><use href="#sy" x="600"/><use href="#sy" x="630"/><use href="#sy" x="660"/><use href="#sy" x="690"/>
<use href="#sb" x="540"/><use href="#sb" x="570"/><use href="#sb" x="600"/><use href="#sb" x="630"/><use href="#sb" x="660"/><use href="#sb" x="690"/>
<use href="#pA" x="720"/>
<rect class="oG" x="480" y="0" width="210" height="60"/>
<use href="#tp4"/>
<text class="mn" x="0" y="-8">109</text><text class="mn" x="240" y="-8">110</text><text class="mn" x="480" y="-8">111</text><text class="mn" x="720" y="-8">112</text>
</g>

<g id="row29" transform="translate(31,4153.5)">
<use href="#staff"/>
<use href="#pA"/><use href="#pA" x="240"/><use href="#pC" x="480"/><use href="#pD" x="720"/>
<rect class="oP" x="51" y="0" width="10" height="60"/><rect class="oB" x="61" y="0" width="899" height="60"/>
<use href="#tp4"/>
<text class="mn" x="0" y="-8">113</text><text class="mn" x="240" y="-8">114</text><text class="mn" x="480" y="-8">115</text><text class="mn" x="720" y="-8">116</text>
</g>

<g id="row30" transform="translate(31,4294.5)">
<use href="#staff"/>
<rect class="bR" x="240" y="11.5" width="210" height="7"/><rect class="bB" x="480" y="41.5" width="220" height="7"/><rect class="bY" x="720" y="26.5" width="180" height="7"/><rect class="bG" x="930" y="-3.5" width="30" height="7"/>
<use href="#pH"/><use href="#r" x="240"/><use href="#b" x="480"/><use href="#y" x="720"/><use href="#g" x="900"/><use href="#g" x="930"/>
<rect class="oB" x="0" y="0" width="51" height="60"/><rect class="oP" x="51" y="0" width="10" height="60"/>
<use href="#tp4"/>
<text class="mn" x="0" y="-8">117</text><text class="mn" x="240" y="-8">118</text><text class="mn" x="480" y="-8">119</text><text class="mn" x="720" y="-8">120</text>
</g>

<g id="row31" transform="translate(31,4435.5)">
<use href="#staff"/>
<rect class="bB" x="0" y="41.5" width="15" height="7"/><rect class="bB" x="240" y="41.5" width="720" height="7"/><rect class="bO" x="240" y="56.5" width="240" height="7"/>
<use href="#b" x="240"/><use href="#o" x="240"/>
<use href="#tp4"/>
<text class="mn" x="0" y="-8">121</text><text class="mn" x="240" y="-8">122</text><text class="mn" x="480" y="-8">123</text><text class="mn" x="720" y="-8">124</text>
</g>
</g>
</svg>
